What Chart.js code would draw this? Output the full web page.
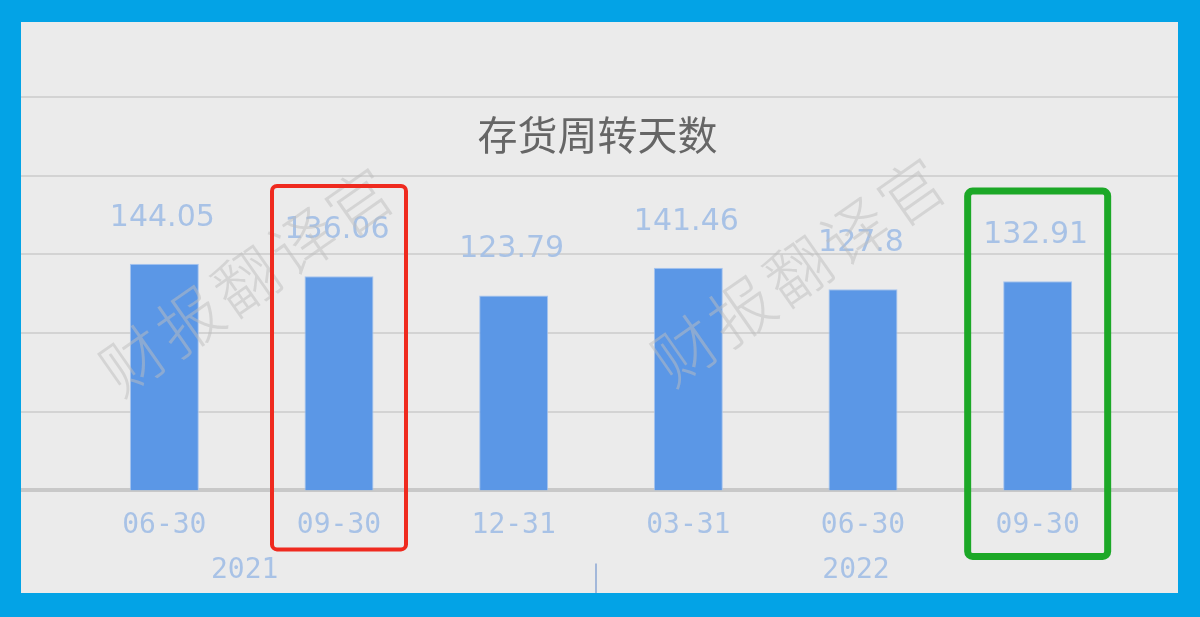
<!DOCTYPE html>
<html>
<head>
<meta charset="utf-8">
<script src="https://cdn.jsdelivr.net/npm/chart.js@4"></script>
<style>
  html, body { margin:0; padding:0; }
  body { width:1200px; height:617px; background:#03a3e6; position:relative; overflow:hidden; }
  #wrap { position:absolute; left:21px; top:22px; width:1157px; height:571px; background:#ebebeb; }
  #c { display:block; }
</style>
</head>
<body>
<div id="wrap"><canvas id="c" width="1157" height="571"></canvas></div>
<script>
// 数据
const TITLE = '存货周转天数';
const LABELS = ['06-30','09-30','12-31','03-31','06-30','09-30'];
const VALUES = [144.05, 136.06, 123.79, 141.46, 127.8, 132.91];
const YEARS = ['2021','2022'];
const YEAR_AT = [0.46, 3.96];   // 年份标签所在的类目位置
const YEAR_SPLIT = 2.47;        // 年份分隔线
const WATERMARK = '财报翻译官';
const WATERMARK_AT = [[-0.18, 263], [2.98, 253]];

const LIGHT_BLUE = '#a8c2e6';

// 高亮框
const HIGHLIGHTS = [
  {index:1, color:'#ef2a1f', lineWidth:4, half:67, top:89, bottom:59},
  {index:5, color:'#1ca827', lineWidth:7, half:70, top:94, bottom:66}
];

const chartDeco = {
  id:'chartDeco',
  beforeDatasetsDraw(chart){
    const {ctx, scales:{y}} = chart;
    ctx.save();
    y.ticks.forEach(t=>{
      const py = Math.round(y.getPixelForValue(t.value));
      ctx.beginPath();
      if(t.value === 0){ ctx.lineWidth = 4; ctx.strokeStyle = '#c8c8c8'; }
      else { ctx.lineWidth = 2; ctx.strokeStyle = '#d3d3d3'; }
      ctx.moveTo(0, py); ctx.lineTo(chart.width, py); ctx.stroke();
    });
    // 标题
    ctx.fillStyle = '#666';
    ctx.font = '40px "Noto Sans CJK SC"';
    ctx.textAlign = 'center'; ctx.textBaseline = 'middle';
    ctx.fillText(TITLE, chart.width/2 - 2, y.getPixelForValue(250) + 38);
    ctx.restore();
  },
  afterDatasetsDraw(chart){
    const {ctx, chartArea, scales:{x}} = chart;
    const meta = chart.getDatasetMeta(0);
    ctx.save();
    // 数值
    ctx.fillStyle = LIGHT_BLUE;
    ctx.font = '30px "DejaVu Sans"';
    ctx.textAlign = 'center'; ctx.textBaseline = 'middle';
    meta.data.forEach((bar,i)=>{
      ctx.fillText(String(VALUES[i]), bar.x - 2, bar.y - 46);
    });
    // 年份
    ctx.font = '28px "DejaVu Sans Mono"';
    YEARS.forEach((yr,i)=>{
      ctx.fillText(yr, x.getPixelForValue(YEAR_AT[i]), chartArea.bottom + 80);
    });
    // 分隔线
    const sx = Math.round(x.getPixelForValue(YEAR_SPLIT));
    ctx.strokeStyle = '#a3b8da'; ctx.lineWidth = 2;
    ctx.beginPath(); ctx.moveTo(sx, chartArea.bottom + 73); ctx.lineTo(sx, chart.height); ctx.stroke();
    // 水印
    ctx.fillStyle = 'rgba(190,190,190,0.5)';
    ctx.font = '200 64px "Noto Sans CJK SC"';
    const ang = -35 * Math.PI / 180;
    WATERMARK_AT.forEach(([pos, dy])=>{
      const x0 = x.getPixelForValue(pos), y0 = chartArea.top + dy;
      [...WATERMARK].forEach((ch,k)=>{
        ctx.save();
        ctx.translate(x0 + Math.cos(ang)*69*k, y0 + Math.sin(ang)*69*k);
        ctx.rotate(ang);
        ctx.fillText(ch, 0, 0);
        ctx.restore();
      });
    });
    // 高亮框
    HIGHLIGHTS.forEach(h=>{
      const cx = x.getPixelForValue(h.index);
      ctx.strokeStyle = h.color; ctx.lineWidth = h.lineWidth;
      ctx.beginPath();
      ctx.roundRect(cx - h.half, chartArea.top + h.top, h.half*2, chartArea.bottom + h.bottom - chartArea.top - h.top, 5);
      ctx.stroke();
    });
    ctx.restore();
  }
};

new Chart(document.getElementById('c'), {
  type:'bar',
  data:{
    labels: LABELS,
    datasets:[{
      data: VALUES,
      backgroundColor:'#5b97e6',
      borderColor:'#a6c4ef',
      borderWidth:1,
      categoryPercentage:1,
      barPercentage:0.395
    }]
  },
  options:{
    responsive:false,
    animation:false,
    layout:{ padding:{ left:56, right:53, top:75, bottom:31 } },
    plugins:{ legend:{display:false}, tooltip:{enabled:false} },
    scales:{
      y:{ display:false, min:0, max:250, ticks:{ stepSize:50 } },
      x:{
        grid:{ display:false, drawTicks:false },
        border:{ display:false },
        ticks:{ color:LIGHT_BLUE, padding:19, font:{ family:'DejaVu Sans Mono', size:28 } }
      }
    }
  },
  plugins:[chartDeco]
});
</script>
</body>
</html>
